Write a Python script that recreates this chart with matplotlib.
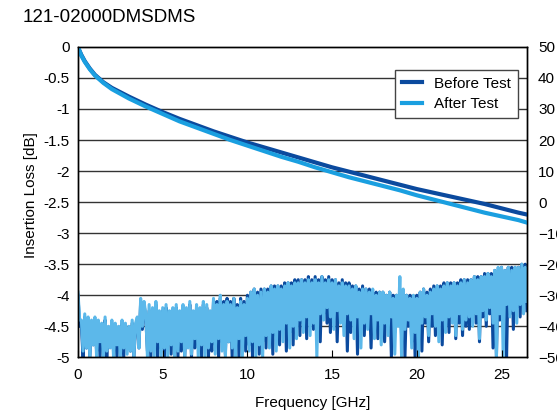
import numpy as np
import matplotlib
matplotlib.use("Agg")
import matplotlib.pyplot as plt

plt.rcParams['font.family'] = ['Liberation Sans', 'DejaVu Sans']

# insertion loss (GHz, dB)
il_freq = [0, 0.05, 0.2, 0.4, 0.7, 1, 1.5, 2, 3, 4, 5, 6, 7, 8, 9, 10, 11, 12,
           13, 14, 15, 16, 17, 18, 19, 20, 21, 22, 23, 24, 25, 26, 26.5]
il_before = [0, -0.04, -0.13, -0.23, -0.35, -0.45, -0.57, -0.66, -0.80, -0.93,
             -1.05, -1.16, -1.26, -1.36, -1.45, -1.54, -1.62, -1.70, -1.78,
             -1.86, -1.94, -2.01, -2.08, -2.15, -2.22, -2.29, -2.35, -2.41,
             -2.47, -2.53, -2.60, -2.67, -2.70]
il_after = [0, -0.04, -0.14, -0.24, -0.36, -0.46, -0.58, -0.68, -0.83, -0.96,
            -1.08, -1.20, -1.30, -1.40, -1.50, -1.59, -1.68, -1.77, -1.85,
            -1.94, -2.02, -2.10, -2.17, -2.24, -2.31, -2.39, -2.46, -2.53,
            -2.60, -2.67, -2.73, -2.79, -2.83]

# return loss (right axis, dB), sampled every 0.1 GHz
rl_freq = np.round(np.arange(0, 26.55, 0.1), 1)
rl_before = [
    -30, -40, -40, -50, -37, -47, -38, -50, -39, -46,
    -38, -48, -39, -50, -40, -47, -38, -50, -41, -46,
    -39, -48, -40, -50, -41, -47, -39, -50, -40, -46,
    -41, -48, -39, -50, -40, -38, -47, -32, -41, -33,
    -37, -48, -35, -50, -35, -46, -33, -50, -36, -47,
    -35, -50, -34, -46, -36, -49, -35, -45, -34, -50,
    -36, -48, -34, -50, -35, -46, -33, -50, -36, -47,
    -34, -47, -35, -50, -33, -46, -34, -50, -36, -48,
    -32, -46, -32, -50, -31, -45, -32, -49, -31, -45,
    -32, -50, -31, -46, -33, -50, -31, -45, -32, -48,
    -30, -46, -29, -50, -28, -44, -29, -49, -28, -45,
    -28, -47, -28, -41, -27, -49, -27, -43, -27, -46,
    -27, -41, -26, -48, -26, -42, -26, -46, -25, -40,
    -25, -43, -25, -39, -25, -44, -24, -38, -25, -41,
    -24, -40, -25, -45, -24, -36, -25, -39, -24, -42,
    -25, -37, -25, -45, -26, -38, -25, -40, -26, -48,
    -26, -42, -27, -37, -27, -49, -28, -40, -27, -43,
    -28, -38, -28, -47, -29, -40, -29, -44, -29, -39,
    -29, -45, -30, -40, -29, -50, -30, -42, -30, -38,
    -28, -43, -29, -50, -30, -40, -30, -45, -31, -50,
    -30, -41, -29, -48, -28, -39, -29, -45, -28, -40,
    -27, -43, -27, -39, -27, -46, -26, -40, -26, -42,
    -26, -37, -26, -44, -26, -39, -25, -43, -25, -40,
    -25, -41, -25, -36, -24, -39, -24, -45, -24, -37,
    -23, -40, -23, -36, -23, -47, -22, -50, -22, -38,
    -21, -40, -22, -50, -21, -36, -21, -41, -21, -34,
    -21, -37, -20, -33, -20, -35]
rl_after = [
    -29, -38, -38, -48, -36, -47, -37, -50, -38, -46,
    -37, -50, -38, -45, -39, -50, -37, -48, -40, -47,
    -38, -50, -39, -46, -40, -50, -38, -47, -39, -49,
    -40, -48, -38, -50, -39, -37, -47, -31, -40, -32,
    -36, -50, -33, -48, -34, -50, -32, -45, -35, -50,
    -34, -47, -33, -50, -35, -46, -34, -50, -33, -48,
    -35, -45, -33, -50, -34, -47, -32, -49, -35, -44,
    -33, -50, -34, -46, -32, -50, -33, -47, -35, -45,
    -31, -49, -33, -44, -30, -48, -33, -50, -32, -45,
    -33, -47, -31, -50, -34, -44, -32, -50, -33, -43,
    -31, -48, -29, -45, -28, -50, -30, -46, -29, -50,
    -28, -43, -29, -47, -27, -42, -28, -48, -27, -41,
    -28, -45, -27, -39, -26, -47, -27, -40, -26, -44,
    -26, -38, -25, -42, -26, -37, -25, -43, -26, -39,
    -25, -50, -26, -36, -24, -38, -26, -34, -25, -37,
    -26, -41, -25, -35, -27, -39, -26, -43, -27, -36,
    -27, -38, -28, -44, -27, -37, -29, -47, -28, -39,
    -28, -41, -29, -36, -28, -44, -30, -38, -29, -46,
    -29, -39, -30, -43, -29, -37, -31, -49, -30, -40,
    -24, -50, -28, -41, -30, -38, -31, -47, -30, -42,
    -31, -50, -29, -39, -28, -37, -30, -43, -29, -36,
    -28, -40, -27, -45, -28, -38, -27, -42, -26, -37,
    -27, -39, -26, -43, -27, -36, -26, -41, -25, -38,
    -26, -37, -25, -40, -24, -36, -25, -44, -24, -35,
    -24, -38, -23, -34, -24, -39, -22, -50, -21, -36,
    -21, -50, -22, -33, -21, -37, -22, -35, -21, -39,
    -21, -33, -20, -36, -21, -32]

dark = "#0b4a9e"
light_il = "#1a9fe0"
light_rl = "#5cb8ea"

fig = plt.figure(figsize=(5.57, 4.15), dpi=100)
ax = fig.add_axes([0.140, 0.139, 0.806, 0.748])
ax2 = ax.twinx()

# return loss on right axis
ax2.plot(rl_freq, rl_before, color=dark, lw=2.2)
ax2.plot(rl_freq, rl_after, color=light_rl, lw=2.2)
ax2.set_ylim(-50, 50)
ax2.set_yticks(range(-50, 51, 10))
ax2.tick_params(axis='y', length=0, pad=8, labelsize=11)

# insertion loss on left axis, drawn over the return loss
ax.set_zorder(ax2.get_zorder() + 1)
ax.patch.set_visible(False)
ax.plot(il_freq, il_before, color=dark, lw=3, label="Before Test")
ax.plot(il_freq, il_after, color=light_il, lw=3, label="After Test")

ax.set_xlim(0, 26.5)
ax.set_ylim(-5, 0)
ax.set_yticks(np.arange(-5, 0.01, 0.5))
ax.set_yticklabels(["-5", "-4.5", "-4", "-3.5", "-3", "-2.5", "-2", "-1.5", "-1", "-0.5", "0"])
ax.set_xticks([0, 5, 10, 15, 20, 25])
ax.tick_params(axis='y', length=0, pad=6, labelsize=11)
ax.tick_params(axis='x', direction='in', length=5, pad=8, labelsize=11)
ax2.grid(False)
for yv in np.arange(-4.5, 0, 0.5):
    ax2.axhline(yv * 20 + 50, color="#333333", lw=1, zorder=0)

ax.set_xlabel("Frequency [GHz]", fontsize=11)
ax.xaxis.set_label_coords(0.523, -0.125)
ax.set_ylabel("Insertion Loss [dB]", fontsize=11)
ax.yaxis.set_label_coords(-0.088, 0.523)

for a in (ax, ax2):
    for s in a.spines.values():
        s.set_color("black")
        s.set_linewidth(1)

leg = ax.legend(loc="upper right", bbox_to_anchor=(0.98, 0.926), borderaxespad=0,
                fancybox=False, framealpha=1, edgecolor="#444444", fontsize=11,
                handlelength=1.3, handletextpad=0.8, borderpad=0.45, labelspacing=0.4)
leg.get_frame().set_linewidth(1)

fig.text(0.04, 0.959, "121-02000DMSDMS", fontsize=13.5, va="center", ha="left")

fig.savefig("out.png", dpi=100)
